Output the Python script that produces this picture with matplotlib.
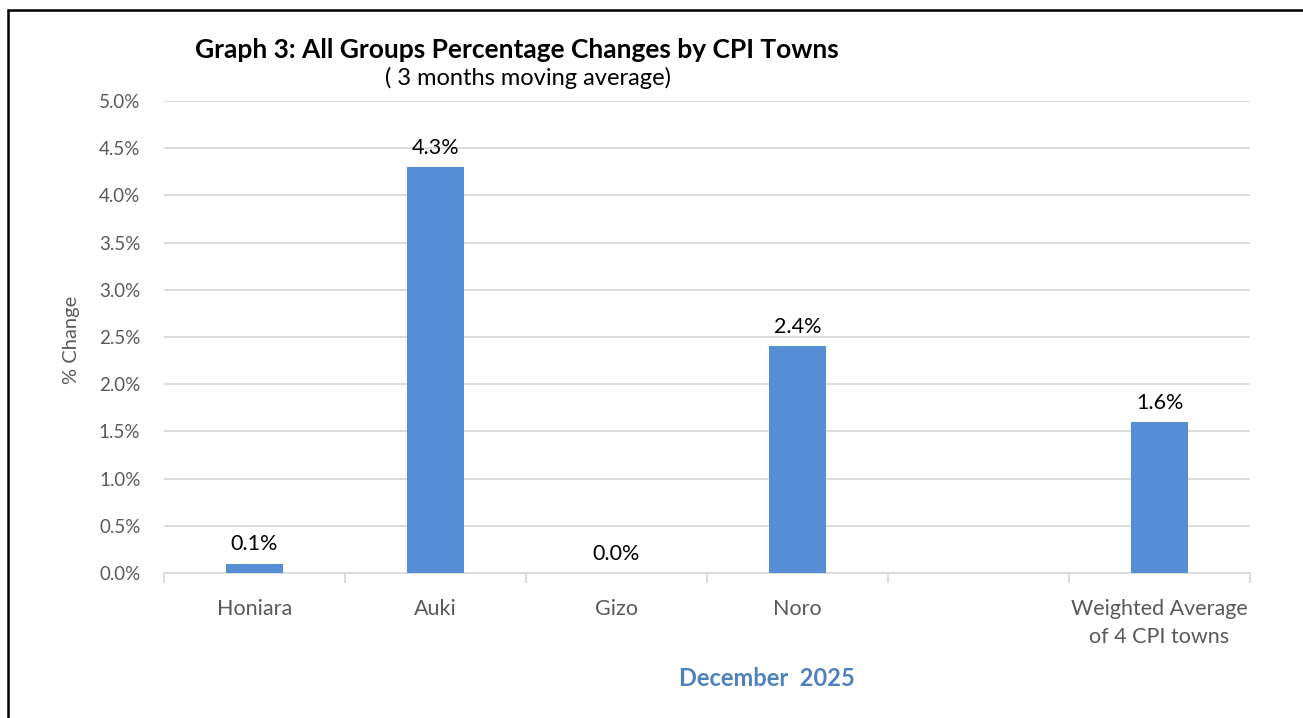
import matplotlib
matplotlib.use("Agg")
import matplotlib.pyplot as plt
from matplotlib.patches import Rectangle
import numpy as np

categories = ["Honiara", "Auki", "Gizo", "Noro", "", "Weighted Average\nof 4 CPI towns"]
values = [0.1, 4.3, 0.0, 2.4, None, 1.6]
labels = ["0.1%", "4.3%", "0.0%", "2.4%", "", "1.6%"]
yticks = [0.0, 0.5, 1.0, 1.5, 2.0, 2.5, 3.0, 3.5, 4.0, 4.5, 5.0]

plt.rcParams['font.family'] = ['Lato', 'DejaVu Sans']

W, H = 1303, 718
fig = plt.figure(figsize=(W/100, H/100), dpi=100)
ax = fig.add_axes([164/W, 1-573/H, (1250-164)/W, (573-101)/H])

x = np.arange(len(categories))
bar_color = "#558ED5"
for xi, v, lab in zip(x, values, labels):
    if v is None:
        continue
    ax.bar(xi, v, width=0.31, color=bar_color, zorder=3)
    ax.text(xi, v + 0.1, lab, ha="center", va="bottom", fontsize=15.5, color="black")

ax.set_xlim(-0.5, len(categories) - 0.5)
ax.set_ylim(0, 5.0)
ax.set_yticks(yticks)
ax.set_yticklabels([f"{t:.1f}%" for t in yticks], color="#595959", fontsize=13.5)
ax.yaxis.grid(True, color="#D9D9D9", linewidth=1.3, zorder=0)
ax.tick_params(axis="y", length=0, pad=17)

ax.set_xticks(x)
ax.set_xticklabels(categories, color="#595959", fontsize=15.5, linespacing=1.45)
ax.set_xticks(np.arange(-0.5, len(categories)), minor=True)
ax.tick_params(axis="x", which="major", length=0, pad=19)
ax.tick_params(axis="x", which="minor", length=7, color="#D9D9D9", width=1.3)

for s in ["top", "right", "left"]:
    ax.spines[s].set_visible(False)
ax.spines["bottom"].set_color("#D9D9D9")
ax.spines["bottom"].set_linewidth(1.3)

fig.text(72/W, 1-340/H, "% Change", rotation=90, ha="center", va="center",
         fontsize=14.5, color="#595959")
fig.text(517/W, 1-50/H, "Graph 3: All Groups Percentage Changes by CPI Towns",
         ha="center", va="center", fontsize=19, fontweight="bold", color="black")
fig.text(528/W, 1-78/H, "( 3 months moving average)", ha="center", va="center",
         fontsize=17, color="black")
fig.text(767/W, 1-679/H, "December  2025", ha="center", va="center",
         fontsize=17, fontweight="bold", color="#4F81BD")

fig.patches.append(Rectangle((8/W, -0.1), 1.2, (1-10/H) + 0.1, transform=fig.transFigure,
                             fill=False, edgecolor="black", linewidth=1.8))

fig.savefig("out.png", dpi=100)
